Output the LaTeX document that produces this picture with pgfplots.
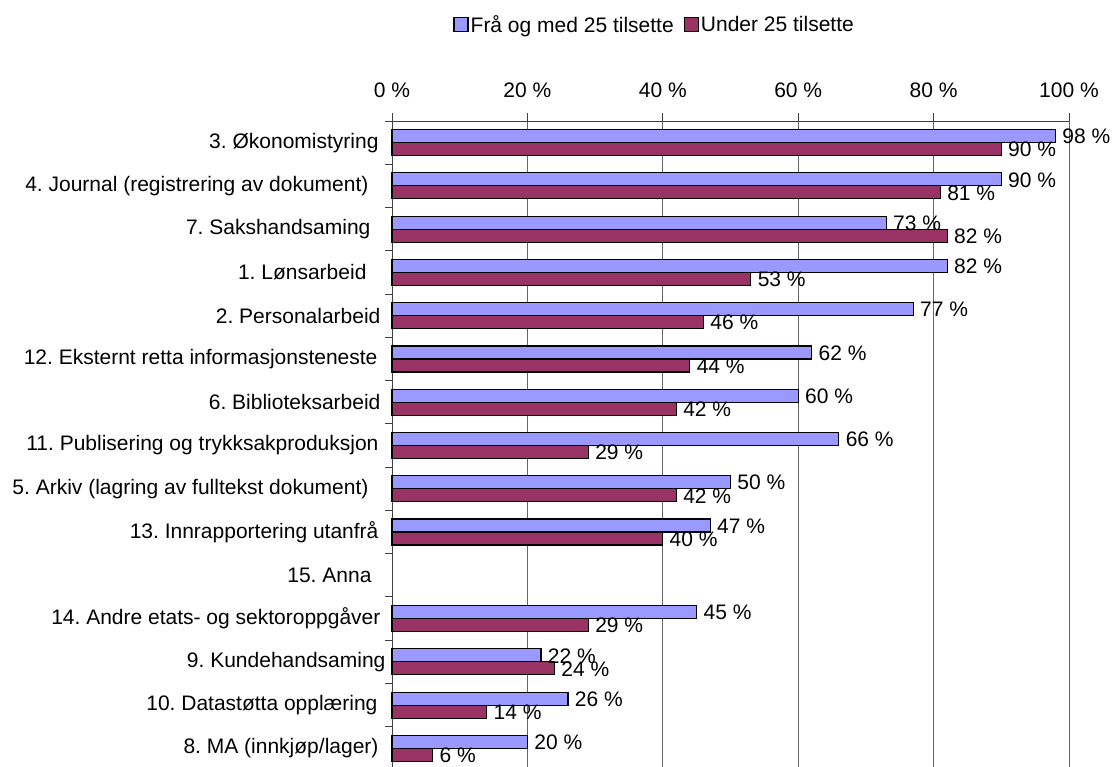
\documentclass[border=0pt]{standalone}
\usepackage{pgfplots}
\pgfplotsset{compat=1.18}
\usepackage{fontspec}
\setmainfont{Liberation Sans}
\definecolor{cblue}{HTML}{9999FF}
\definecolor{cred}{HTML}{993366}
\newcommand{\lf}{\fontsize{21}{25}\selectfont}
\frenchspacing
\begin{document}
\begin{tikzpicture}
\path[use as bounding box] (0pt,0pt) rectangle (1115pt,767pt);
\begin{axis}[
  at={(392pt,-3pt)}, anchor=south west,
  scale only axis, width=677pt, height=649pt,
  xmin=0, xmax=100, ymin=-0.5, ymax=14.5, y dir=reverse,
  axis x line*=top, axis y line*=left,
  axis line style={black!75, line width=0.9pt},
  xtick={0,20,40,60,80,100},
  xticklabels={0 \%,20 \%,40 \%,60 \%,80 \%,100 \%},
  xticklabel style={yshift=12pt},
  tick align=outside, major tick length=8pt,
  xtick style={black!75, line width=0.9pt},
  xmajorgrids, major grid style={black!60, line width=0.9pt},
  ytick={0,...,14},
  yticklabels={
    {3. Økonomistyring\hspace*{2pt}},
    {4. Journal (registrering av dokument)\hspace*{12pt}},
    {7. Sakshandsaming\hspace*{10pt}},
    {1. Lønsarbeid\hspace*{14pt}},
    {2. Personalarbeid},
    {12. Eksternt retta informasjonsteneste\hspace*{3pt}},
    {6. Biblioteksarbeid},
    {11. Publisering og trykksakproduksjon\hspace*{2pt}},
    {5. Arkiv (lagring av fulltekst dokument)\hspace*{12pt}},
    {13. Innrapportering utanfrå\hspace*{2pt}},
    {15. Anna\hspace*{9pt}},
    {14. Andre etats- og sektoroppgåver},
    {9. Kundehandsaming\hspace*{-5pt}},
    {10. Datastøtta opplæring\hspace*{3pt}},
    {8. MA (innkjøp/lager)\hspace*{2pt}}},
  ytick style={draw=none},
  extra y ticks={-0.5,0.5,...,14.5},
  extra y tick labels={},
  extra y tick style={ytick style={draw=black!75, line width=0.9pt}, major tick length=7pt},
  tick label style={font=\lf},
  clip=false,
  /pgf/number format/assume math mode=true,
  nodes near coords={\pgfmathprintnumber{\pgfplotspointmeta}~\%},
  nodes near coords style={font=\lf, anchor=west, xshift=3pt},
  point meta=x,
  legend style={at={(0.388,1.149)}, anchor=center, draw=none, font=\lf,
    legend columns=2, /tikz/every even column/.append style={column sep=8pt}},
  legend image code/.code={\draw[#1, line width=1.2pt] (0pt,-7pt) rectangle (14pt,7pt);},
]
\addplot[xbar, bar width=13pt, bar shift=6.5pt, fill=cblue, draw=black, line width=1.2pt,
  every node near coord/.append style={yshift=6pt}]
coordinates {(98,0) (90,1) (73,2) (82,3) (77,4) (62,5) (60,6) (66,7) (50,8) (47,9) (45,11) (22,12) (26,13) (20,14)};
\addlegendentry{Frå og med 25 tilsette}
\addplot[xbar, bar width=13pt, bar shift=-6.5pt, fill=cred, draw=black, line width=1.2pt,
  every node near coord/.append style={yshift=-7pt}]
coordinates {(90,0) (81,1) (82,2) (53,3) (46,4) (44,5) (42,6) (29,7) (42,8) (40,9) (29,11) (24,12) (14,13) (6,14)};
\addlegendentry{Under 25 tilsette}
\end{axis}
\end{tikzpicture}
\end{document}
